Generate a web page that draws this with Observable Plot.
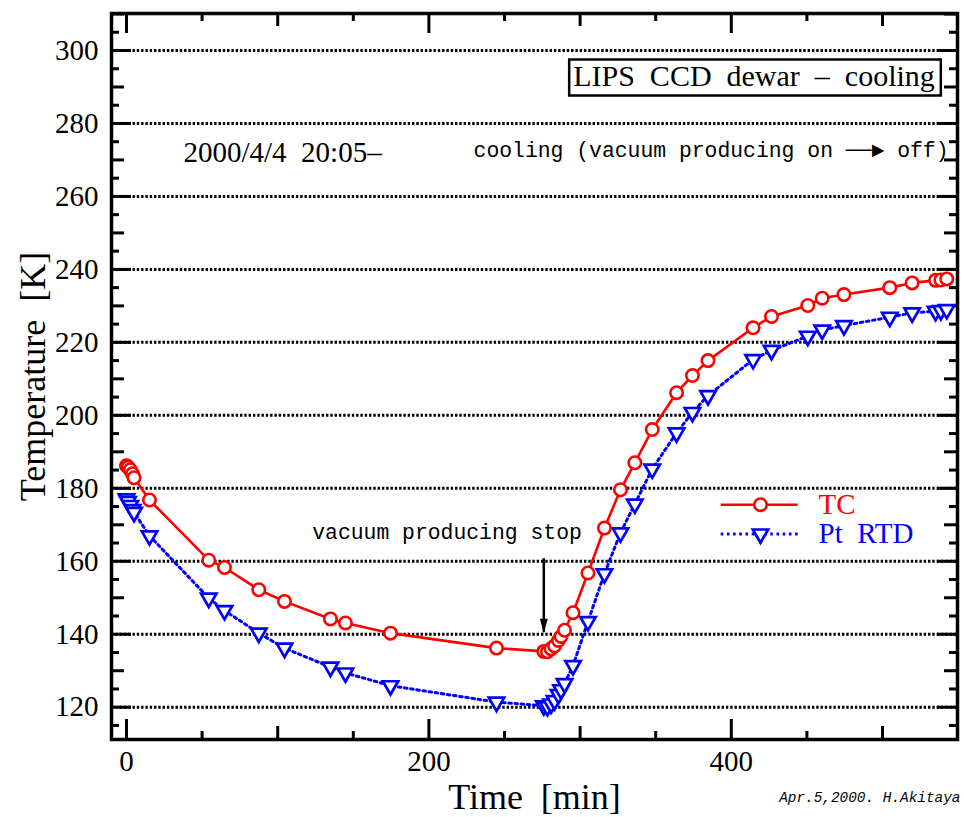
<!DOCTYPE html>
<html>
<head>
<meta charset="utf-8">
<script src="https://cdn.jsdelivr.net/npm/d3@7"></script>
<script src="https://cdn.jsdelivr.net/npm/@observablehq/plot@0.6"></script>
<style>
  body { margin: 0; background: #fff; }
  svg { display: block; }
  svg text { white-space: pre; }
</style>
</head>
<body>
<div id="chart"></div>
<script>
// ---- data (time in minutes, temperatures in K) ----
const time = [0, 1, 2.5, 4, 5, 15.2, 54.4, 64.8, 87.5, 104.5, 134.9, 144.8, 174.6, 244.7, 276.0, 278.4, 280.8, 283.1, 285.7, 287.4, 289.7, 295.3, 305.2, 316.1, 326.7, 336.2, 347.7, 363.8, 374.3, 384.6, 414.4, 426.6, 450.6, 460.1, 474.5, 504.8, 519.6, 535.1, 538.6, 542.5];
const tc = [186.2, 185.8, 185.1, 184.0, 182.9, 176.8, 160.3, 158.3, 152.2, 149.0, 144.2, 143.1, 140.3, 136.2, 135.3, 135.2, 136.0, 136.8, 138.3, 139.4, 141.1, 145.9, 156.8, 169.1, 179.6, 187.0, 196.1, 206.2, 210.9, 215.0, 224.0, 227.1, 230.1, 232.1, 233.1, 235.0, 236.3, 237.0, 237.1, 237.4];
const rtd = [177.1, 176.4, 175.3, 174.2, 173.4, 167.0, 149.9, 146.5, 140.3, 136.2, 131.0, 129.4, 125.9, 121.4, 120.4, 120.2, 120.9, 121.8, 123.5, 124.8, 126.5, 131.4, 143.5, 156.6, 167.8, 175.7, 185.3, 195.2, 200.8, 205.4, 215.3, 217.8, 221.7, 223.4, 224.6, 226.9, 228.1, 228.5, 228.7, 229.0];

const seriesNames = ["TC", "Pt  RTD"];
const yTickLabels = [120, 140, 160, 180, 200, 220, 240, 260, 280, 300];
const xTickLabels = [0, 200, 400];
const xMidTicks = [100, 300, 500];
const xMinorTicks = [50, 150, 250, 350, 450];

const titleText = "LIPS  CCD  dewar  \u2013  cooling";
const dateText = "2000/4/4  20:05\u2013";
const modeText = "cooling (vacuum producing on \u2500\u2500\u25BA off)";
const stopText = "vacuum producing stop";
const xLabel = "Time  [min]";
const yLabel = "Temperature  [K]";
const footer = "Apr.5,2000. H.Akitaya";

// annotation anchors (data units)
const stopTime = time[14];
const stopArrow = [{t: stopTime, yTop: 160.7, yTip: 140.4, yText: 166.2}];
const legendX = {x1: 393.3, x2: 444.2, mark: 419.3, text: 457.7};
const legendY = [175.5, 167.5];

// ---- layout ----
const W = 964, H = 817;
const mL = 111, mR = 7, mT = 13, mB = 78;
const innerW = W - mL - mR, innerH = H - mT - mB;
const serif = "'Liberation Serif', 'Times New Roman', Times, serif";
const mono = "'Liberation Mono', 'Courier New', Courier, monospace";
const RED = "#ff0000", BLUE = "#0000ff";
const blueDash = "2.6,3.6";

const tcData = time.map((t, i) => ({t, v: tc[i]}));
const rtdData = time.map((t, i) => ({t, v: rtd[i]}));

const yAll = d3.range(115, 311, 5);
const yMinor = yAll.filter(v => v % 10 !== 0);
const yMid = yAll.filter(v => v % 10 === 0 && v % 20 !== 0);
const yMajor = yTickLabels;

const tickLen = {major: 20, mid: 13, minor: 8};
const tickStyle = {stroke: "black", strokeWidth: 3};

function yTicks(values, len) {
  return [
    Plot.ruleY(values, {...tickStyle, insetRight: innerW - len}),
    Plot.ruleY(values, {...tickStyle, insetLeft: innerW - len})
  ];
}
function xTicks(values, len) {
  return [
    Plot.ruleX(values, {...tickStyle, insetTop: innerH - len}),
    Plot.ruleX(values, {...tickStyle, insetBottom: innerH - len})
  ];
}

const triDown = {
  draw(ctx, size) {
    const s = Math.sqrt(size / (Math.sqrt(3) / 4));
    const h = s * Math.sqrt(3) / 2;
    ctx.moveTo(-s / 2, -h / 3);
    ctx.lineTo(s / 2, -h / 3);
    ctx.lineTo(0, 2 * h / 3);
    ctx.closePath();
  }
};
const arrowHead = {
  draw(ctx) {
    ctx.moveTo(0, 0);
    ctx.lineTo(-4, -14);
    ctx.lineTo(4, -14);
    ctx.closePath();
  }
};

const legendRows = seriesNames.map((name, i) => ({name, y: legendY[i], color: i === 0 ? RED : BLUE}));

const chart = Plot.plot({
  width: W,
  height: H,
  marginLeft: mL, marginRight: mR, marginTop: mT, marginBottom: mB,
  x: {domain: [-9.92, 549.6]},
  y: {domain: [111.15, 310.14]},
  style: {fontFamily: serif, fontSize: "28px", color: "black", background: "white", overflow: "visible"},
  marks: [
    // dotted grid
    Plot.ruleY(yMajor, {stroke: "black", strokeWidth: 3, strokeDasharray: "2.4,1.9"}),
    // ticks on all four sides
    ...yTicks(yMajor, tickLen.major),
    ...yTicks(yMid, tickLen.mid),
    ...yTicks(yMinor, tickLen.minor),
    ...xTicks(xTickLabels, tickLen.major),
    ...xTicks(xMidTicks, tickLen.mid),
    ...xTicks(xMinorTicks, tickLen.minor),
    // tick labels
    Plot.axisY({ticks: yTickLabels, tickSize: 0, tickPadding: 13, fontSize: 29, fontFamily: serif, label: null, tickFormat: d => String(d)}),
    Plot.axisX({ticks: xTickLabels, tickSize: 0, tickPadding: 11, fontSize: 29, fontFamily: serif, label: null, tickFormat: d => String(d)}),
    // series
    Plot.line(rtdData, {x: "t", y: "v", stroke: BLUE, strokeWidth: 3, strokeDasharray: blueDash}),
    Plot.line(tcData, {x: "t", y: "v", stroke: RED, strokeWidth: 2.6}),
    Plot.dot(rtdData, {x: "t", y: "v", symbol: triDown, r: 5.7, stroke: BLUE, fill: "white", strokeWidth: 2.7}),
    Plot.dot(tcData, {x: "t", y: "v", r: 6.2, stroke: RED, fill: "white", strokeWidth: 2.6}),
    // stop arrow annotation
    Plot.ruleX(stopArrow, {x: "t", y1: "yTop", y2: "yTip", stroke: "black", strokeWidth: 2.5}),
    Plot.dot(stopArrow, {x: "t", y: "yTip", symbol: arrowHead, fill: "black", stroke: "none", r: 5}),
    Plot.text(stopArrow, {x: "t", y: "yText", text: () => stopText, textAnchor: "end", lineAnchor: "bottom", dx: 38, fontFamily: mono, fontSize: 21.4}),
    // legend
    Plot.ruleY([legendRows[0]], {y: "y", x1: legendX.x1, x2: legendX.x2, stroke: RED, strokeWidth: 2.6}),
    Plot.ruleY([legendRows[1]], {y: "y", x1: legendX.x1, x2: legendX.x2, stroke: BLUE, strokeWidth: 3, strokeDasharray: blueDash}),
    Plot.dot([legendRows[0]], {x: () => legendX.mark, y: "y", r: 6.2, stroke: RED, fill: "white", strokeWidth: 2.6}),
    Plot.dot([legendRows[1]], {x: () => legendX.mark, y: "y", symbol: triDown, r: 5.7, stroke: BLUE, fill: "white", strokeWidth: 2.7}),
    Plot.text(legendRows, {x: () => legendX.text, y: "y", text: "name", fill: "color", textAnchor: "start", lineAnchor: "middle", fontSize: 29, fontFamily: serif}),
    // texts
    Plot.text([titleText], {frameAnchor: "top-right", dx: -203.5, dy: 72, text: d => d, textAnchor: "middle", lineAnchor: "bottom", fontSize: 30, fontFamily: serif}),
    Plot.text([dateText], {frameAnchor: "top-left", dx: 72, dy: 148, text: d => d, textAnchor: "start", lineAnchor: "bottom", fontSize: 29, fontFamily: serif}),
    Plot.text([modeText], {frameAnchor: "top-right", dx: -9, dy: 143, text: d => d, textAnchor: "end", lineAnchor: "bottom", fontSize: 21.4, fontFamily: mono}),
    Plot.text([xLabel], {frameAnchor: "bottom", dy: 58, text: d => d, textAnchor: "middle", lineAnchor: "middle", fontSize: 36, fontFamily: serif}),
    Plot.text([yLabel], {frameAnchor: "left", dx: -78, rotate: -90, text: d => d, textAnchor: "middle", lineAnchor: "middle", fontSize: 36, fontFamily: serif}),
    Plot.text([footer], {frameAnchor: "bottom-right", dx: 3, dy: 58, text: d => d, textAnchor: "end", lineAnchor: "middle", fontSize: 14.4, fontFamily: mono, fontStyle: "italic"}),
    // frame
    Plot.frame({stroke: "black", strokeWidth: 3.5})
  ]
});

document.getElementById("chart").appendChild(chart);

// box around the title text
const titleEl = Array.from(chart.querySelectorAll("text")).find(t => t.textContent === titleText);
if (titleEl) {
  const bb = titleEl.getBBox();
  const rect = document.createElementNS("http://www.w3.org/2000/svg", "rect");
  rect.setAttribute("x", bb.x - 4);
  rect.setAttribute("y", bb.y + 1);
  rect.setAttribute("width", bb.width + 10);
  rect.setAttribute("height", bb.height + 3);
  rect.setAttribute("fill", "white");
  rect.setAttribute("stroke", "black");
  rect.setAttribute("stroke-width", 2.5);
  const tr = titleEl.getAttribute("transform");
  if (tr) rect.setAttribute("transform", tr);
  titleEl.parentNode.insertBefore(rect, titleEl);
}
</script>
</body>
</html>
